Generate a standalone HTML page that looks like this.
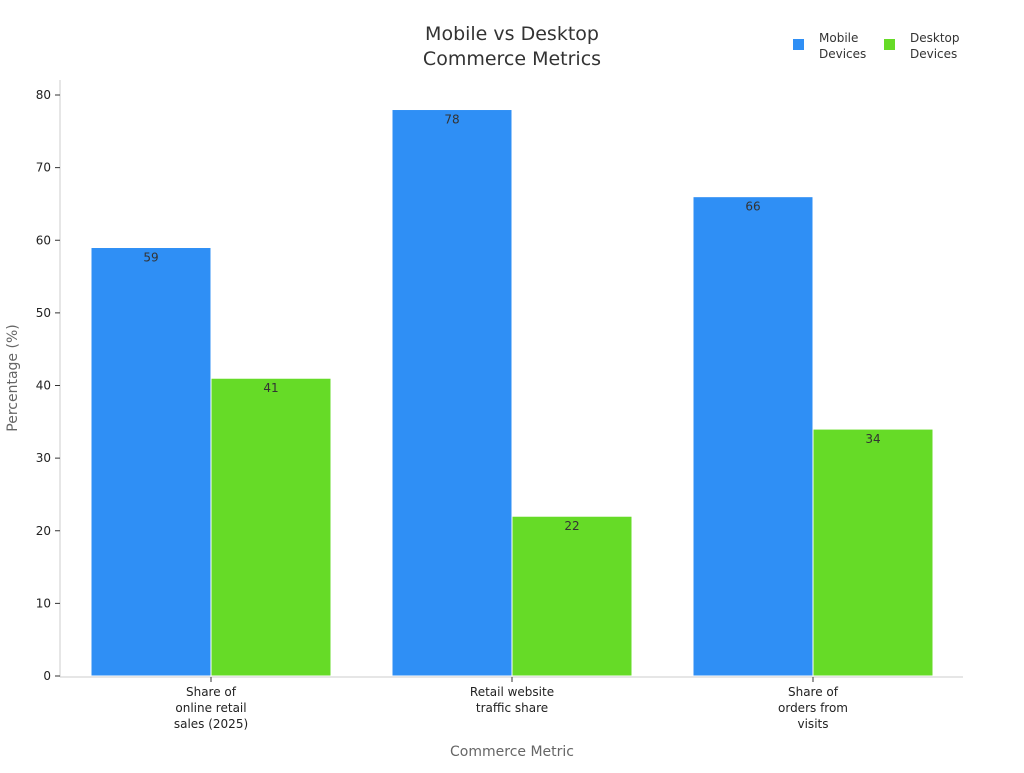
<!DOCTYPE html>
<html><head><meta charset="utf-8"><style>
body{margin:0;background:#fff}
svg text{font-family:"DejaVu Sans","Liberation Sans",sans-serif}
</style></head><body>
<svg id="chart" width="1024" height="768" xmlns="http://www.w3.org/2000/svg">
<text x="512" y="40" text-anchor="middle" font-size="19" fill="#333"><tspan x="512">Mobile vs Desktop</tspan><tspan x="512" dy="25">Commerce Metrics</tspan></text>
<g>
<rect x="793" y="39" width="11" height="11" fill="#2f8ff5"/>
<text x="819" y="42" font-size="12" fill="#333"><tspan x="819">Mobile</tspan><tspan x="819" dy="16">Devices</tspan></text>
<rect x="884" y="39" width="11" height="11" fill="#66db27"/>
<text x="910" y="42" font-size="12" fill="#333"><tspan x="910">Desktop</tspan><tspan x="910" dy="16">Devices</tspan></text>
</g>
<line x1="60" y1="80" x2="60" y2="677" stroke="#ccc"/>
<line x1="60" y1="677" x2="963" y2="677" stroke="#ccc"/>
<g id="yt"></g><g id="bars"></g><g id="xl"></g>
<text transform="translate(17,378) rotate(-90)" text-anchor="middle" font-size="14" fill="#666">Percentage (%)</text>
<text x="512" y="756" text-anchor="middle" font-size="14" fill="#666">Commerce Metric</text>
</svg>
<script>
const categories=[["Share of","online retail","sales (2025)"],["Retail website","traffic share"],["Share of","orders from","visits"]];
const mobile=[59,78,66];
const desktop=[41,22,34];
const yTicks=[0,10,20,30,40,50,60,70,80];
const NS="http://www.w3.org/2000/svg";
const y=v=>676-v*7.2625;
const cx=i=>211+i*301;
function mk(t,a,p){const e=document.createElementNS(NS,t);for(const k in a)e.setAttribute(k,a[k]);p.appendChild(e);return e;}
const yt=document.getElementById('yt');
yTicks.forEach(v=>{
 const l=mk('line',{x1:55,x2:60,y1:y(v),y2:y(v),stroke:'#333'},yt);
 
 
 const t=mk('text',{x:51,y:y(v)+4,'text-anchor':'end','font-size':12,fill:'#222'},yt);t.textContent=v;
 
 
});
const bars=document.getElementById('bars');
[[mobile,'#2f8ff5',-120,'mobile'],[desktop,'#66db27',0,'desktop']].forEach(([arr,c,off,n])=>{
 arr.forEach((v,i)=>{
  const r=mk('rect',{x:cx(i)+off,y:y(v),width:120,height:676-y(v),fill:c,stroke:'#fff','stroke-width':1},bars);
  
  
  const t=mk('text',{x:cx(i)+off+60,y:y(v)+14,'text-anchor':'middle','font-size':12,fill:'#333'},bars);t.textContent=v;
  
  
 });
});
const xl=document.getElementById('xl');
categories.forEach((lines,i)=>{
 const tk=mk('line',{x1:cx(i),x2:cx(i),y1:677,y2:682,stroke:'#333'},xl);
 
 
 const t=mk('text',{'text-anchor':'middle','font-size':12,fill:'#222'},xl);
 
 
 lines.forEach((s,j)=>{const ts=mk('tspan',{x:cx(i),y:696+j*16},t);ts.textContent=s;});
});
</script>
</body></html>
